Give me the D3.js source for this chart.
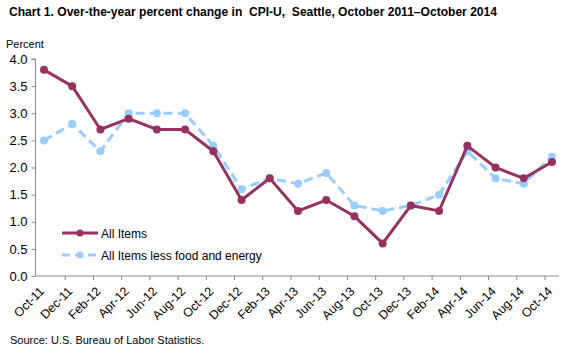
<!DOCTYPE html>
<html><head><meta charset="utf-8">
<script src="https://cdn.jsdelivr.net/npm/d3@7"></script>
<style>body{margin:0;background:#fff}svg{display:block;font-family:"Liberation Sans",Arial,sans-serif}</style>
</head><body>
<script>
const categories = ["Oct-11","Dec-11","Feb-12","Apr-12","Jun-12","Aug-12","Oct-12","Dec-12","Feb-13","Apr-13","Jun-13","Aug-13","Oct-13","Dec-13","Feb-14","Apr-14","Jun-14","Aug-14","Oct-14"];
const allItems = [3.8,3.5,2.7,2.9,2.7,2.7,2.3,1.4,1.8,1.2,1.4,1.1,0.6,1.3,1.2,2.4,2.0,1.8,2.1];
const coreItems = [2.5,2.8,2.3,3.0,3.0,3.0,2.4,1.6,1.8,1.7,1.9,1.3,1.2,1.3,1.5,2.3,1.8,1.7,2.2];
const yTicks = [0,0.5,1.0,1.5,2.0,2.5,3.0,3.5,4.0];
const seriesNames = ["All Items","All Items less food and energy"];

const W=576,H=346;
const svg=d3.select("body").append("svg").attr("width",W).attr("height",H);
const x=d3.scalePoint().domain(categories).range([44,552]);
const y=d3.scaleLinear().domain([0,4]).range([276,59]);
const axisLeft=35.5, axisRight=559;

svg.append("text").attr("x",9).attr("y",16).attr("font-size",12).attr("font-weight","bold")
  .attr("textLength",488).attr("lengthAdjust","spacingAndGlyphs").style("white-space","pre")
  .text("Chart 1. Over-the-year percent change in  CPI-U,  Seattle, October 2011\u2013October 2014");
svg.append("text").attr("x",6).attr("y",48).attr("font-size",11).attr("fill","#000").text("Percent");

// y axis
const ya=svg.append("g").attr("transform",`translate(${axisLeft},0)`)
  .call(d3.axisLeft(y).tickValues(yTicks).tickFormat(d3.format(".1f")).tickSize(4).tickPadding(4));
ya.select(".domain").attr("stroke","#888").attr("d",`M-4,${y(4)}H0V${y(0)}`);
ya.selectAll(".tick line").attr("stroke","#888");
ya.selectAll(".tick text").attr("font-size",13).attr("fill","#000").attr("font-family","Liberation Sans, Arial, sans-serif");

// x axis
const xg=svg.append("g");
xg.append("line").attr("x1",axisLeft).attr("x2",axisRight).attr("y1",y(0)).attr("y2",y(0)).attr("stroke","#888");
xg.selectAll("line.tk").data(categories.slice(1)).join("line").attr("class","tk")
  .attr("x1",d=>x(d)-7).attr("x2",d=>x(d)-7).attr("y1",y(0)).attr("y2",y(0)+4).attr("stroke","#888");
xg.selectAll("text").data(categories).join("text")
  .attr("transform",d=>`translate(${x(d)+1},${y(0)+16}) rotate(-45)`)
  .attr("text-anchor","end").attr("font-size",12.5).attr("fill","#000").text(d=>d);

const line=d3.line().x((d,i)=>x(categories[i])).y(d=>y(d));
const blue="#99CCFF", maroon="#953262";
// core series
svg.append("path").datum(coreItems).attr("d",line).attr("fill","none").attr("stroke",blue).attr("stroke-width",3).attr("stroke-dasharray","9,5");
svg.selectAll("circle.core").data(coreItems).join("circle").attr("class","core")
  .attr("cx",(d,i)=>x(categories[i])).attr("cy",d=>y(d)).attr("r",4).attr("fill",blue);
// all items
svg.append("path").datum(allItems).attr("d",line).attr("fill","none").attr("stroke",maroon).attr("stroke-width",3);
svg.selectAll("circle.all").data(allItems).join("circle").attr("class","all")
  .attr("cx",(d,i)=>x(categories[i])).attr("cy",d=>y(d)).attr("r",4).attr("fill",maroon);

// legend
const lg=svg.append("g");
const ly=[233,255];
lg.append("line").attr("x1",62).attr("x2",98).attr("y1",ly[0]).attr("y2",ly[0]).attr("stroke",maroon).attr("stroke-width",3);
lg.append("circle").attr("cx",80).attr("cy",ly[0]).attr("r",3.5).attr("fill",maroon);
lg.append("line").attr("x1",62).attr("x2",98).attr("y1",ly[1]).attr("y2",ly[1]).attr("stroke",blue).attr("stroke-width",3).attr("stroke-dasharray","8,5");
lg.append("circle").attr("cx",80).attr("cy",ly[1]).attr("r",3.5).attr("fill",blue);
lg.selectAll("text").data(seriesNames).join("text").attr("x",101).attr("y",(d,i)=>ly[i]+4.5)
  .attr("font-size",12).attr("fill","#000").text(d=>d);

svg.append("text").attr("x",10).attr("y",344).attr("font-size",11).attr("fill","#000").text("Source: U.S. Bureau of Labor Statistics.");
</script>
</body></html>
